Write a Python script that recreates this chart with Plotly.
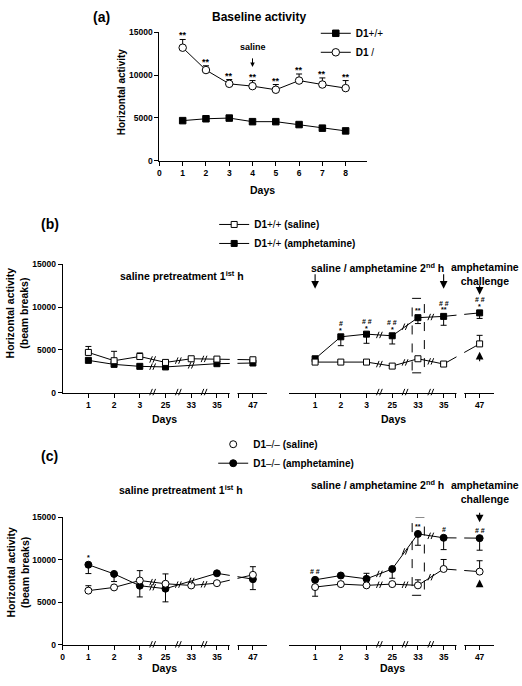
import plotly.graph_objects as go

W, H = 522, 686

# ---------------- data ----------------
# (a) baseline activity
days_a = [1, 2, 3, 4, 5, 6, 7, 8]
wt_a = [4680, 4900, 4980, 4560, 4560, 4220, 3800, 3480]
ko_a = [13200, 10590, 8980, 8710, 8290, 9360, 8900, 8480]
ko_a_err = [960, 500, 500, 650, 610, 770, 770, 880]
sig_a = ['**'] * 8

# (b), (c) day categories (position 7.4 = after axis break)
day_labels = ['1', '2', '3', '25', '33', '35', '47']
day_pos = [1, 2, 3, 4, 5, 6, 7.4]
axis_breaks = [3.5, 4.5, 5.5]
y_ticks = [0, 5000, 10000, 15000]
y_tick_labels = ['0', '5000', '10000', '15000']

# (b) D1+/+ 1st hour (saline pretreatment)
b1_sal = [4700, 3730, 4220, 3530, 3960, 3920, 3840]
b1_sal_up = [700, 1100, 420, 0, 0, 200, 150]
b1_amph = [3770, 3300, 3070, 3000, None, 3380, 3460]
# (b) D1+/+ 2nd hour (saline / amphetamine)
b2_sal = [3570, 3570, 3570, 3100, 3960, 3340, 5700]
b2_sal_up = [0, 0, 0, 0, 0, 0, 1000]
b2_amph = [3960, 6530, 6840, 6650, 8770, 8920, 9330]
b2_amph_dn = [0, 1040, 1070, 960, 690, 1040, 650]
b2_star = ['', '*', '*', '*', '**', '**', '*']
b2_hash = ['', '#', '# #', '# #', '', '# #', '# #']

# (c) D1-/- 1st hour
c1_sal = [6380, 6760, 7575, 7190, 6990, 7260, 8240]
c1_sal_up = [580, 0, 1160, 1160, 0, 0, 960]
c1_amph = [9430, 8350, 6960, 6610, None, 8420, 7730]
c1_amph_dn = [1040, 900, 1320, 1550, 0, 0, 1230]
c1_star = ['*', '', '', '', '', '', '']
# (c) D1-/- 2nd hour
c2_sal = [6800, 7150, 7000, 7150, 7000, 8930, 8620]
c2_sal_up = [0, 0, 0, 0, 650, 1120, 1280]
c2_sal_dn = [1080, 0, 0, 0, 0, 0, 0]
c2_amph = [7650, 8160, 7770, 8930, 13060, 12600, 12560]
c2_amph_up = [0, 0, 650, 0, 0, 0, 0]
c2_amph_dn = [0, 0, 0, 1090, 1340, 1390, 1420]
c2_star = ['', '', '', '', '**', '', '']
c2_hash = ['# #', '', '', '', '', '#', '# #']

FONT = "Liberation Sans, Arial, sans-serif"


def PX(p):
    return p / W


def PY(p):
    return 1 - p / H


def xd(p0, p1):
    return [PX(p0), PX(p1)]


def yd(pb, pt):
    return [PY(pb), PY(pt)]


XR_BC = [0, 7.94]
dom = {
    'a': (xd(158, 366), yd(158, 27.7), [0, 8.9]),
    'bl': (xd(60.9, 265.8), yd(393.3, 263.3), XR_BC),
    'br': (xd(288.5, 493.4), yd(393.3, 263.3), XR_BC),
    'cl': (xd(60.9, 265.8), yd(649.3, 520), XR_BC),
    'cr': (xd(288.5, 493.4), yd(649.3, 520), XR_BC),
}
axid = {'a': '', 'bl': '2', 'br': '3', 'cl': '4', 'cr': '5'}

fig = go.Figure()
anns = []
shapes = []


def err(up=None, dn=None):
    n = len(up or dn)
    return dict(type='data', symmetric=False,
                array=up if up else [0] * n,
                arrayminus=dn if dn else [0] * n,
                width=3, thickness=1, color='black')


def mk(symbol, filled, size):
    return dict(symbol=symbol, size=size, color='black' if filled else 'white',
                line=dict(color='black', width=1))


def add(p, x, y, symbol, filled, size, name=None, legend=None, rank=None,
        up=None, dn=None, showlegend=False):
    i = axid[p]
    fig.add_trace(go.Scatter(
        x=x, y=y, mode='lines+markers', connectgaps=True,
        line=dict(color='black', width=1),
        marker=mk(symbol, filled, size),
        error_y=err(up, dn) if (up or dn) else None,
        name=name, showlegend=showlegend, legend=legend, legendrank=rank,
        xaxis='x' + i, yaxis='y' + i, cliponaxis=False))


def txt(text, px, py, size, **kw):
    anns.append(dict(text=text, x=PX(px), y=PY(py), xref='paper', yref='paper',
                     showarrow=False, font=dict(size=size, family=FONT, color='black'),
                     xanchor='center', yanchor='middle', **kw))


def dtxt(p, text, x, y, size, yshift=0, bold=True):
    i = axid[p]
    anns.append(dict(text=('<b>%s</b>' % text) if bold else text, x=x, y=y,
                     xref='x' + i, yref='y' + i, showarrow=False,
                     font=dict(size=size, family=FONT, color='black'),
                     xanchor='center', yanchor='middle', yshift=yshift))


def arrow(p, x, y, ay, size=1.4, width=1.1):
    i = axid[p]
    anns.append(dict(text='', x=x, y=y, xref='x' + i, yref='y' + i, showarrow=True,
                     ax=0, ay=ay, arrowhead=2, arrowsize=size, arrowwidth=width,
                     arrowcolor='black', standoff=0))


def slash_mark(xref, yref, xa, ya, dy=0):
    # a "//" break mark, sized in pixels, anchored at (xa, ya)
    for dx in (-1.6, 1.6):
        shapes.append(dict(type='line', xref=xref, yref=yref,
                           xsizemode='pixel', ysizemode='pixel', xanchor=xa, yanchor=ya,
                           x0=dx - 1.3, x1=dx + 1.3, y0=dy - 3.2, y1=dy + 3.2,
                           line=dict(color='black', width=1), layer='above'))


# ---------------- (a) ----------------
add('a', days_a, wt_a, 'square', True, 6.5, name='<b>D1</b>+/+', legend='legend',
    rank=1, showlegend=True)
add('a', days_a, ko_a, 'circle', False, 7.5, name='<b>D1</b> /', legend='legend',
    rank=2, up=ko_a_err, showlegend=True)
for d, v, e, s in zip(days_a, ko_a, ko_a_err, sig_a):
    dtxt('a', s, d, v + e, 9, yshift=4)
txt('<b>Baseline activity</b>', 258, 12, 12)
txt('<b>(a)</b>', 100, 12, 14)
txt('<b>saline</b>', 251.6, 43, 9)
arrow('a', 4, 10960, -10, size=0.9, width=1)
txt('<b>Horizontal activity</b>', 120, 88, 10, textangle=-90)
txt('<b>Days</b>', 262, 188, 10.5)

# ---------------- (b) ----------------
add('bl', day_pos, b1_amph, 'square', True, 6)
add('bl', day_pos, b1_sal, 'square', False, 6, up=b1_sal_up)
add('br', day_pos, b2_amph, 'square', True, 6, name='<b>D1</b>+/+ <b>(amphetamine)</b>',
    legend='legend2', rank=2, dn=b2_amph_dn, showlegend=True)
add('br', day_pos, b2_sal, 'square', False, 6, name='<b>D1</b>+/+ <b>(saline)</b>',
    legend='legend2', rank=1, up=b2_sal_up, showlegend=True)
for x, v, s, h in zip(day_pos, b2_amph, b2_star, b2_hash):
    if s:
        dtxt('br', s, x, v, 7, yshift=6 if s == '*' else 7)
    if h:
        dtxt('br', h, x, v, 7, yshift=13)
txt('<b>(b)</b>', 48, 222, 14)
txt('<b>saline pretreatment 1<sup>ist</sup> h</b>', 181, 275, 10.5)
txt('<b>saline / amphetamine 2<sup>nd</sup> h</b>', 377, 266, 10.5)
txt('<b>amphetamine<br>challenge</b>', 485, 272.5, 10.5)
arrow('br', day_pos[0], 12150, -16)
arrow('br', day_pos[5], 12150, -16)
arrow('br', day_pos[6], 11460, -11)
arrow('br', day_pos[6], 4770, 11)
shapes.append(dict(type='rect', xref='x3', yref='y3', x0=4.775, x1=5.25, y0=2310, y1=11030,
                   line=dict(color='black', width=1, dash='dash'), fillcolor='rgba(0,0,0,0)'))
txt('<b>Horizontal activity<br>(beam breaks)</b>', 16, 312, 10.5, textangle=-90)
txt('<b>Days</b>', 163, 420, 10.5)
txt('<b>Days</b>', 393, 420, 10.5)

# ---------------- (c) ----------------
add('cl', day_pos, c1_amph, 'circle', True, 7, dn=c1_amph_dn)
add('cl', day_pos, c1_sal, 'circle', False, 7, up=c1_sal_up)
for x, v, s in zip(day_pos, c1_amph, c1_star):
    if s:
        dtxt('cl', s, x, v, 7, yshift=7)
add('cr', day_pos, c2_amph, 'circle', True, 7, name='<b>D1</b>–/– <b>(amphetamine)</b>',
    legend='legend3', rank=2, up=c2_amph_up, dn=c2_amph_dn, showlegend=True)
add('cr', day_pos, c2_sal, 'circle', False, 7, up=c2_sal_up, dn=c2_sal_dn)
fig.add_trace(go.Scatter(x=[None], y=[None], mode='markers', marker=mk('circle', False, 7),
                         name='<b>D1</b>–/– <b>(saline)</b>', legend='legend3', legendrank=1,
                         xaxis='x5', yaxis='y5'))
for x, v, s, h in zip(day_pos, c2_amph, c2_star, c2_hash):
    if s:
        dtxt('cr', s, x, v, 7, yshift=7)
    if h:
        dtxt('cr', h, x, v, 7, yshift=8)
txt('<b>(c)</b>', 48, 458, 14)
txt('<b>saline pretreatment 1<sup>ist</sup> h</b>', 180, 492, 10.5)
txt('<b>saline / amphetamine 2<sup>nd</sup> h</b>', 377, 487, 10.5)
txt('<b>amphetamine<br>challenge</b>', 485, 494, 10.5)
arrow('cr', day_pos[0], 16080, -16)
arrow('cr', day_pos[5], 16080, -16)
arrow('cr', day_pos[6], 14420, -11)
arrow('cr', day_pos[6], 7690, 9)
shapes.append(dict(type='rect', xref='x5', yref='y5', x0=4.775, x1=5.25, y0=5830, y1=15000,
                   line=dict(color='black', width=1, dash='dash'), fillcolor='rgba(0,0,0,0)'))
txt('<b>Horizontal activity<br>(beam breaks)</b>', 16, 575, 10.5, textangle=-90)
txt('<b>Days</b>', 163, 673, 10.5)
txt('<b>Days</b>', 392, 673, 10.5)


# ------------- axis breaks ("//") -------------
def line_breaks(p, ys):
    i = axid[p]
    pts = [(x, y) for x, y in zip(day_pos, ys) if y is not None]
    for (x0, y0), (x1, y1) in zip(pts, pts[1:]):
        if x0 >= 3 and x1 <= 6:
            slash_mark('x' + i, 'y' + i, (x0 + x1) / 2, (y0 + y1) / 2)


for p, series in [('bl', [b1_sal, b1_amph]), ('br', [b2_sal, b2_amph]),
                  ('cl', [c1_sal, c1_amph]), ('cr', [c2_sal, c2_amph])]:
    for ys in series:
        line_breaks(p, ys)
    xdom, ydom, xr = dom[p]
    for xb in axis_breaks:
        slash_mark('x' + axid[p], 'paper', xb, ydom[0], dy=0.5)
    f = lambda v: xdom[0] + (v - xr[0]) / (xr[1] - xr[0]) * (xdom[1] - xdom[0])
    shapes.append(dict(type='rect', xref='paper', yref='paper', x0=f(6.50), x1=f(6.80),
                       y0=ydom[0] - 2.5 / H, y1=ydom[1], fillcolor='white',
                       line=dict(width=0), layer='above'))

# ---------------- axes ----------------
TICKF = dict(size=8.5, family=FONT, color='black', weight='bold')
layout = dict(width=W, height=H, margin=dict(l=0, r=0, t=0, b=0),
              paper_bgcolor='white', plot_bgcolor='white',
              font=dict(family=FONT, color='black'),
              annotations=anns, shapes=shapes)
for p, i in axid.items():
    xdom, ydom, xr = dom[p]
    if p == 'a':
        tv, tt = list(range(0, 9)), [str(v) for v in range(0, 9)]
    else:
        tv = day_pos + [6.46, 6.84]
        tt = day_labels + ['', '']
        if p == 'cl':
            tv, tt = [0] + tv, ['0'] + tt
    layout['xaxis' + i] = dict(domain=xdom, range=xr, anchor='y' + i, showgrid=False,
                               zeroline=False, showline=True, linecolor='black', linewidth=1,
                               ticks='outside', ticklen=4, tickcolor='black', tickwidth=1,
                               tickvals=tv, ticktext=tt, tickfont=TICKF, fixedrange=True)
    ycfg = dict(domain=ydom, range=[0, 15000], anchor='x' + i, showgrid=False,
                zeroline=False, fixedrange=True)
    if p in ('a', 'bl', 'cl'):
        ycfg.update(showline=True, linecolor='black', linewidth=1, ticks='outside', ticklen=4,
                    tickcolor='black', tickwidth=1, tickvals=y_ticks, ticktext=y_tick_labels,
                    tickfont=TICKF)
    else:
        ycfg.update(visible=False)
    layout['yaxis' + i] = ycfg

LEGF = dict(size=10, family=FONT, color='black')
leg = dict(bgcolor='rgba(0,0,0,0)', borderwidth=0, font=LEGF, xanchor='left',
           yanchor='top', itemwidth=30, traceorder='normal')
layout['legend'] = dict(leg, x=PX(315), y=PY(14))
layout['legend2'] = dict(leg, x=PX(213), y=PY(208))
layout['legend3'] = dict(leg, x=PX(212), y=PY(431))

fig.update_layout(**layout)
fig.write_html("out.html", config={'displayModeBar': False},
               post_script="document.body.style.margin='0';"
                           "document.body.style.overflow='hidden';")
